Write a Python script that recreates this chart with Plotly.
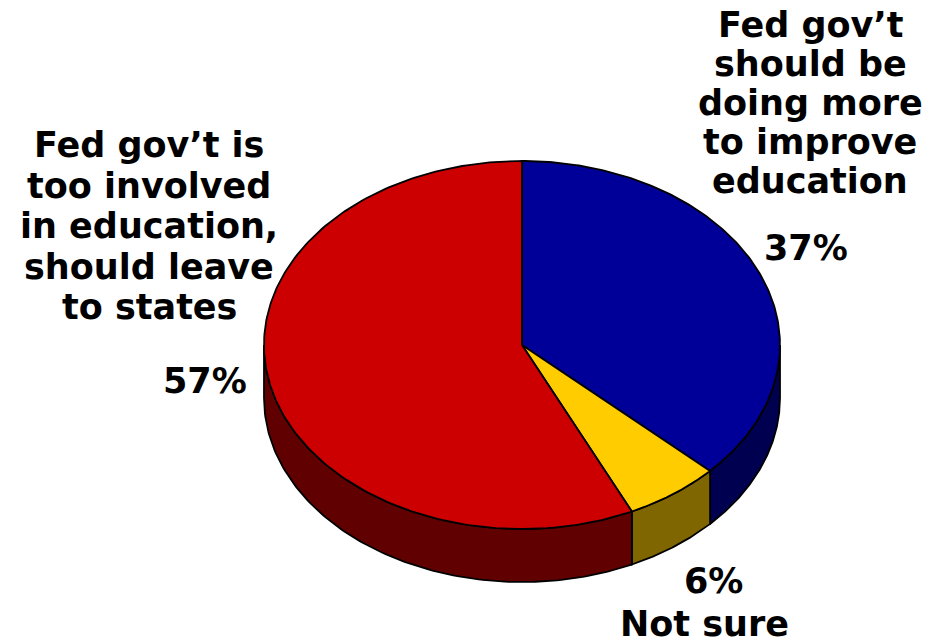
import numpy as np
import plotly.graph_objects as go

# ---- data ----
categories = ["Fed gov't should be doing more to improve education",
              "Not sure",
              "Fed gov't is too involved in education, should leave to states"]
values = [37, 6, 57]
top_colors = ["#000099", "#FFCC00", "#CC0000"]
side_colors = ["#000050", "#806600", "#600000"]
label_lines = [
    ["Fed gov\u2019t", "should be", "doing more", "to improve", "education"],
    ["Not sure"],
    ["Fed gov\u2019t is", "too involved", "in education,", "should leave", "to states"],
]

# ---- geometry (pixel space) ----
W, H = 933, 644
cx, cy, rx, ry, depth = 522, 345, 258, 184, 53

def pt(theta_deg, dy=0.0):
    t = np.radians(theta_deg)
    return cx + rx * np.sin(t), cy - ry * np.cos(t) + dy

fig = go.Figure()

total = float(sum(values))
bounds = []
start = 0.0
for v in values:
    end = start + v / total * 360.0
    bounds.append((start, end))
    start = end

# sides (front half only: 90..270 deg clockwise from top)
for (a0, a1), sc in zip(bounds, side_colors):
    s0, s1 = max(a0, 90), min(a1, 270)
    if s1 <= s0:
        continue
    th = np.linspace(s0, s1, 120)
    xt, yt = pt(th)
    xb, yb = pt(th[::-1], depth)
    xs = np.concatenate([xt, xb, xt[:1]])
    ys = np.concatenate([yt, yb, yt[:1]])
    fig.add_trace(go.Scatter(x=xs, y=ys, mode="lines", fill="toself",
                             fillcolor=sc, line=dict(color="black", width=1.8),
                             hoverinfo="skip", showlegend=False))

# top faces
for (a0, a1), tc, name in zip(bounds, top_colors, categories):
    th = np.linspace(a0, a1, 200)
    xa, ya = pt(th)
    xs = np.concatenate([[cx], xa, [cx]])
    ys = np.concatenate([[cy], ya, [cy]])
    fig.add_trace(go.Scatter(x=xs, y=ys, mode="lines", fill="toself",
                             fillcolor=tc, line=dict(color="black", width=1.8),
                             name=name, hoverinfo="skip", showlegend=False))

# ---- labels ----
FS = 35
font = dict(family="DejaVu Sans, Arial, sans-serif", size=FS, color="black", weight="bold")
label_pos = [  # (x center, first baseline, line step, pct x, pct baseline)
    (810, 37, 39, 806, 260),
    (704, 636, 40, 713, 593),
    (149, 157, 40.5, 205, 393),
]
off = 0.33 * FS

for lines, (lx, b0, step, px, pb), v in zip(label_lines, label_pos, values):
    for i, ln in enumerate(lines):
        fig.add_annotation(x=lx, y=b0 + i * step - off, text=ln, showarrow=False,
                           xanchor="center", yanchor="middle", font=font)
    fig.add_annotation(x=px, y=pb - off, text=f"{v}%", showarrow=False,
                       xanchor="center", yanchor="middle", font=font)

fig.update_layout(
    width=W, height=H, margin=dict(l=0, r=0, t=0, b=0),
    paper_bgcolor="white", plot_bgcolor="white",
    xaxis=dict(range=[0, W], visible=False, fixedrange=True),
    yaxis=dict(range=[H, 0], visible=False, fixedrange=True),
)
fig.write_html("out.html")
